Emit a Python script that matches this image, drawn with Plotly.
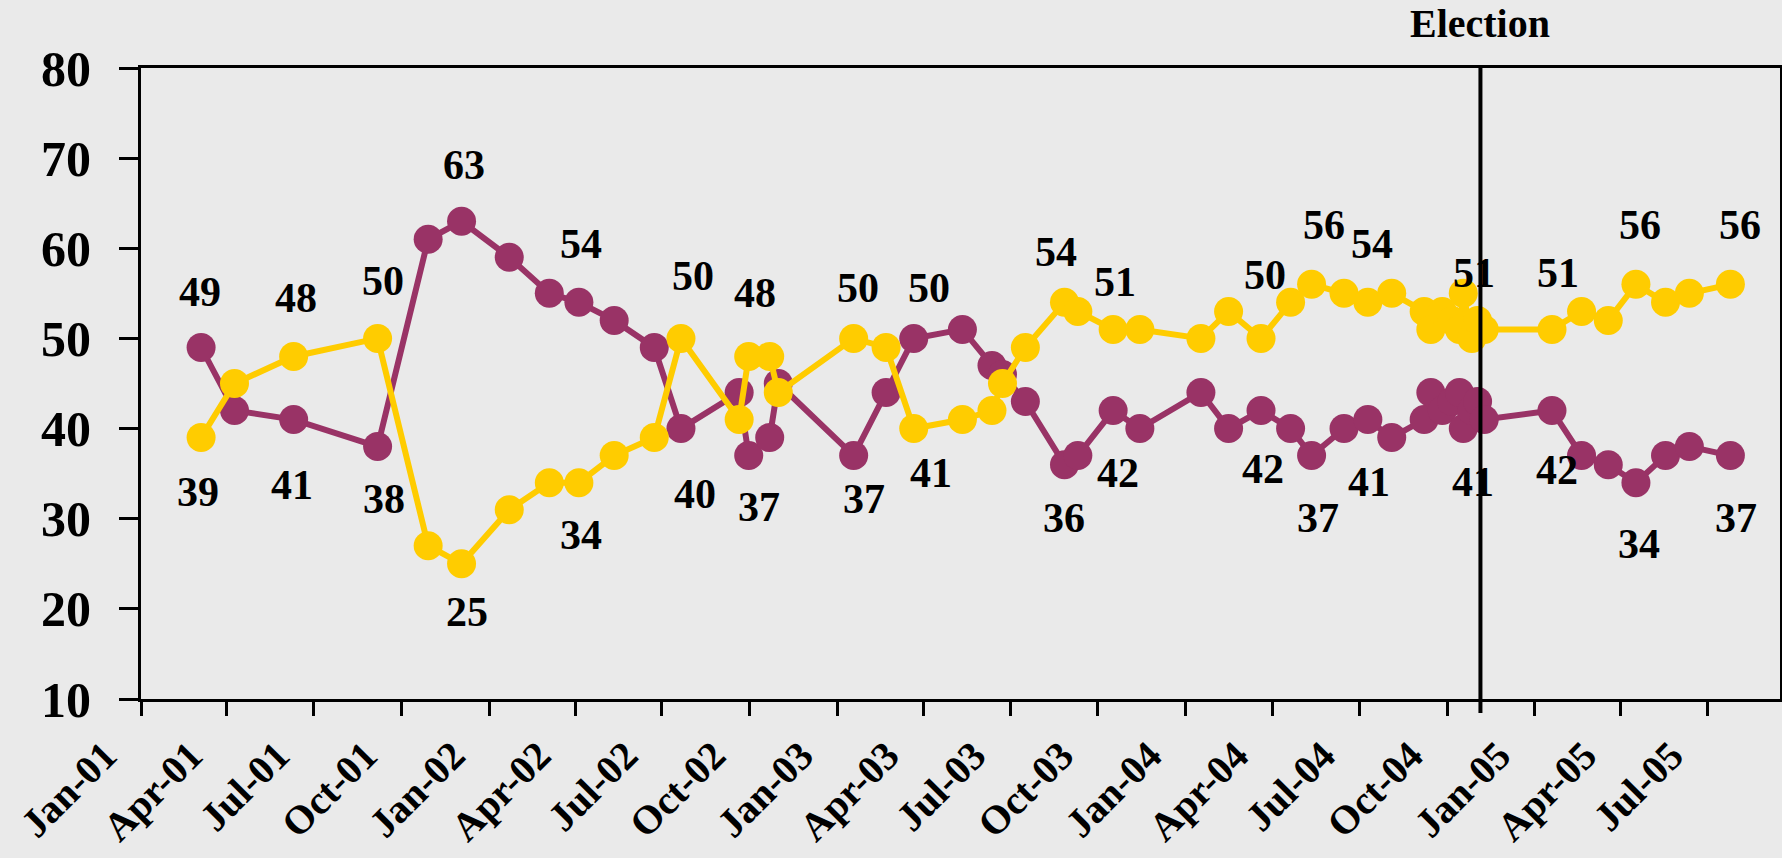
import plotly.graph_objects as go

# ---------------- data ----------------
poll_dates = [
    "2001-03-05", "2001-04-09", "2001-06-10", "2001-09-06", "2001-10-29", "2001-12-03",
    "2002-01-22", "2002-03-05", "2002-04-05", "2002-05-12", "2002-06-23", "2002-07-21",
    "2002-09-20", "2002-09-30", "2002-10-22", "2002-10-31",
    "2003-01-18", "2003-02-21", "2003-03-22", "2003-05-12", "2003-06-12", "2003-06-23",
    "2003-07-17", "2003-08-27", "2003-09-10", "2003-10-17", "2003-11-14",
    "2004-01-17", "2004-02-15", "2004-03-20", "2004-04-20", "2004-05-12", "2004-06-15",
    "2004-07-10", "2004-08-04", "2004-09-07",
    "2004-09-14", "2004-09-26", "2004-10-06", "2004-10-14", "2004-10-18", "2004-10-27",
    "2004-11-02", "2004-11-09",
    "2005-01-19", "2005-02-19", "2005-03-19", "2005-04-17", "2005-05-18", "2005-06-12",
    "2005-07-25",
]
purple_values = [
    49, 42, 41, 38, 61, 63,
    59, 55, 54, 52, 49, 40,
    44, 37, 39, 45,
    37, 44, 50, 51, 47, 46, 43, 36, 37, 42, 40,
    44, 40, 42, 40, 37, 40, 41, 39, 41,
    44, 42, 43, 44, 40, 42, 43, 41,
    42, 37, 36, 34, 37, 38, 37,
]
gold_values = [
    39, 45, 48, 50, 27, 25,
    31, 34, 34, 37, 39, 50,
    41, 48, 48, 44,
    50, 49, 40, 41, 42, 45, 49, 54, 53, 51, 51,
    50, 53, 50, 54, 56, 55, 54, 55, 53,
    51, 53, 52, 51, 55, 50, 52, 51,
    51, 53, 52, 56, 54, 55, 56,
]

# which points carry a value label (index into the series)
purple_label_idx = [0, 2, 3, 5, 8, 11, 13, 16, 18, 23, 25, 29, 31, 33, 43, 44, 47, 50]
gold_label_idx = [0, 2, 3, 5, 8, 11, 13, 16, 19, 23, 25, 29, 31, 33, 43, 44, 47, 50]

tick_dates = [
    "2001-01-01", "2001-04-01", "2001-07-01", "2001-10-01",
    "2002-01-01", "2002-04-01", "2002-07-01", "2002-10-01",
    "2003-01-01", "2003-04-01", "2003-07-01", "2003-10-01",
    "2004-01-01", "2004-04-01", "2004-07-01", "2004-10-01",
    "2005-01-01", "2005-04-01", "2005-07-01",
]
tick_labels = [
    "Jan-01", "Apr-01", "Jul-01", "Oct-01",
    "Jan-02", "Apr-02", "Jul-02", "Oct-02",
    "Jan-03", "Apr-03", "Jul-03", "Oct-03",
    "Jan-04", "Apr-04", "Jul-04", "Oct-04",
    "Jan-05", "Apr-05", "Jul-05",
]
election_date = "2004-11-05"
election_label = "Election"

# label placement offsets in px (style only)
purple_label_dx = [-1, -2, 6, 2, 2, 14, 10, 10, 15, 0, 5, 2, 6, 1, -11, 5, 3, 6]
purple_label_dy = [-55, 65, 52, -56, -58, 65, 51, 43, -50, 53, 62, 58, 62, 62, 62, 59, 61, 62]
gold_label_dx = [-3, 2, 5, 5, 2, 12, 6, 4, -31, -8, 2, 4, 12, 4, -10, 6, 4, 10]
gold_label_dy = [54, -58, -57, 48, 52, -62, -63, -50, 53, -50, -47, -63, -59, -58, -56, -56, -59, -59]

PURPLE = "#993366"
GOLD = "#FFCC00"
BG = "#EAEAEA"
FONT = "Liberation Serif"

fig = go.Figure()
fig.add_trace(go.Scatter(
    x=poll_dates, y=purple_values, mode="lines+markers",
    line=dict(color=PURPLE, width=6), marker=dict(color=PURPLE, size=29),
    showlegend=False, cliponaxis=False, hoverinfo="skip",
))
fig.add_trace(go.Scatter(
    x=poll_dates, y=gold_values, mode="lines+markers",
    line=dict(color=GOLD, width=6), marker=dict(color=GOLD, size=29),
    showlegend=False, cliponaxis=False, hoverinfo="skip",
))

label_font = dict(family=FONT, size=42, color="black", weight="bold")
annotations = []
for k, i in enumerate(purple_label_idx):
    annotations.append(dict(
        x=poll_dates[i], y=purple_values[i], xref="x", yref="y",
        text=str(purple_values[i]), showarrow=False,
        xshift=purple_label_dx[k], yshift=-purple_label_dy[k], font=label_font,
    ))
for k, i in enumerate(gold_label_idx):
    annotations.append(dict(
        x=poll_dates[i], y=gold_values[i], xref="x", yref="y",
        text=str(gold_values[i]), showarrow=False,
        xshift=gold_label_dx[k], yshift=-gold_label_dy[k], font=label_font,
    ))
annotations.append(dict(
    x=election_date, y=1, xref="x", yref="paper", yanchor="middle",
    yshift=45, text=election_label, showarrow=False,
    font=dict(family=FONT, size=40, color="black", weight="bold"),
))

fig.add_shape(
    type="line", xref="x", yref="paper", x0=election_date, x1=election_date,
    y0=-0.022, y1=1, line=dict(color="black", width=4), layer="above",
)

fig.update_layout(
    width=1782, height=858,
    margin=dict(l=141, r=2, t=68, b=159, autoexpand=False),
    paper_bgcolor=BG, plot_bgcolor=BG,
    annotations=annotations,
    xaxis=dict(
        type="date", range=["2001-01-01", "2005-09-15"],
        tickmode="array", tickvals=tick_dates, ticktext=tick_labels,
        tickangle=-45, ticks="outside", ticklen=14, tickwidth=3, tickcolor="black",
        showline=True, linecolor="black", linewidth=3, mirror=True,
        showgrid=False, zeroline=False, automargin=False,
        tickfont=dict(family=FONT, size=40, color="black", weight="bold"),
        ticklabelshift=-36, ticklabelstandoff=0,
    ),
    yaxis=dict(
        range=[10, 80], dtick=10, tick0=10,
        ticks="outside", ticklen=19, tickwidth=3, tickcolor="black",
        showline=True, linecolor="black", linewidth=3, mirror=True,
        showgrid=False, zeroline=False, automargin=False,
        tickfont=dict(family=FONT, size=50, color="black", weight="bold"),
        ticklabelstandoff=18,
    ),
)

fig.write_html(
    "out.html",
    config={"displayModeBar": False},
    post_script="document.body.style.margin='0';document.body.style.overflow='hidden';",
)
